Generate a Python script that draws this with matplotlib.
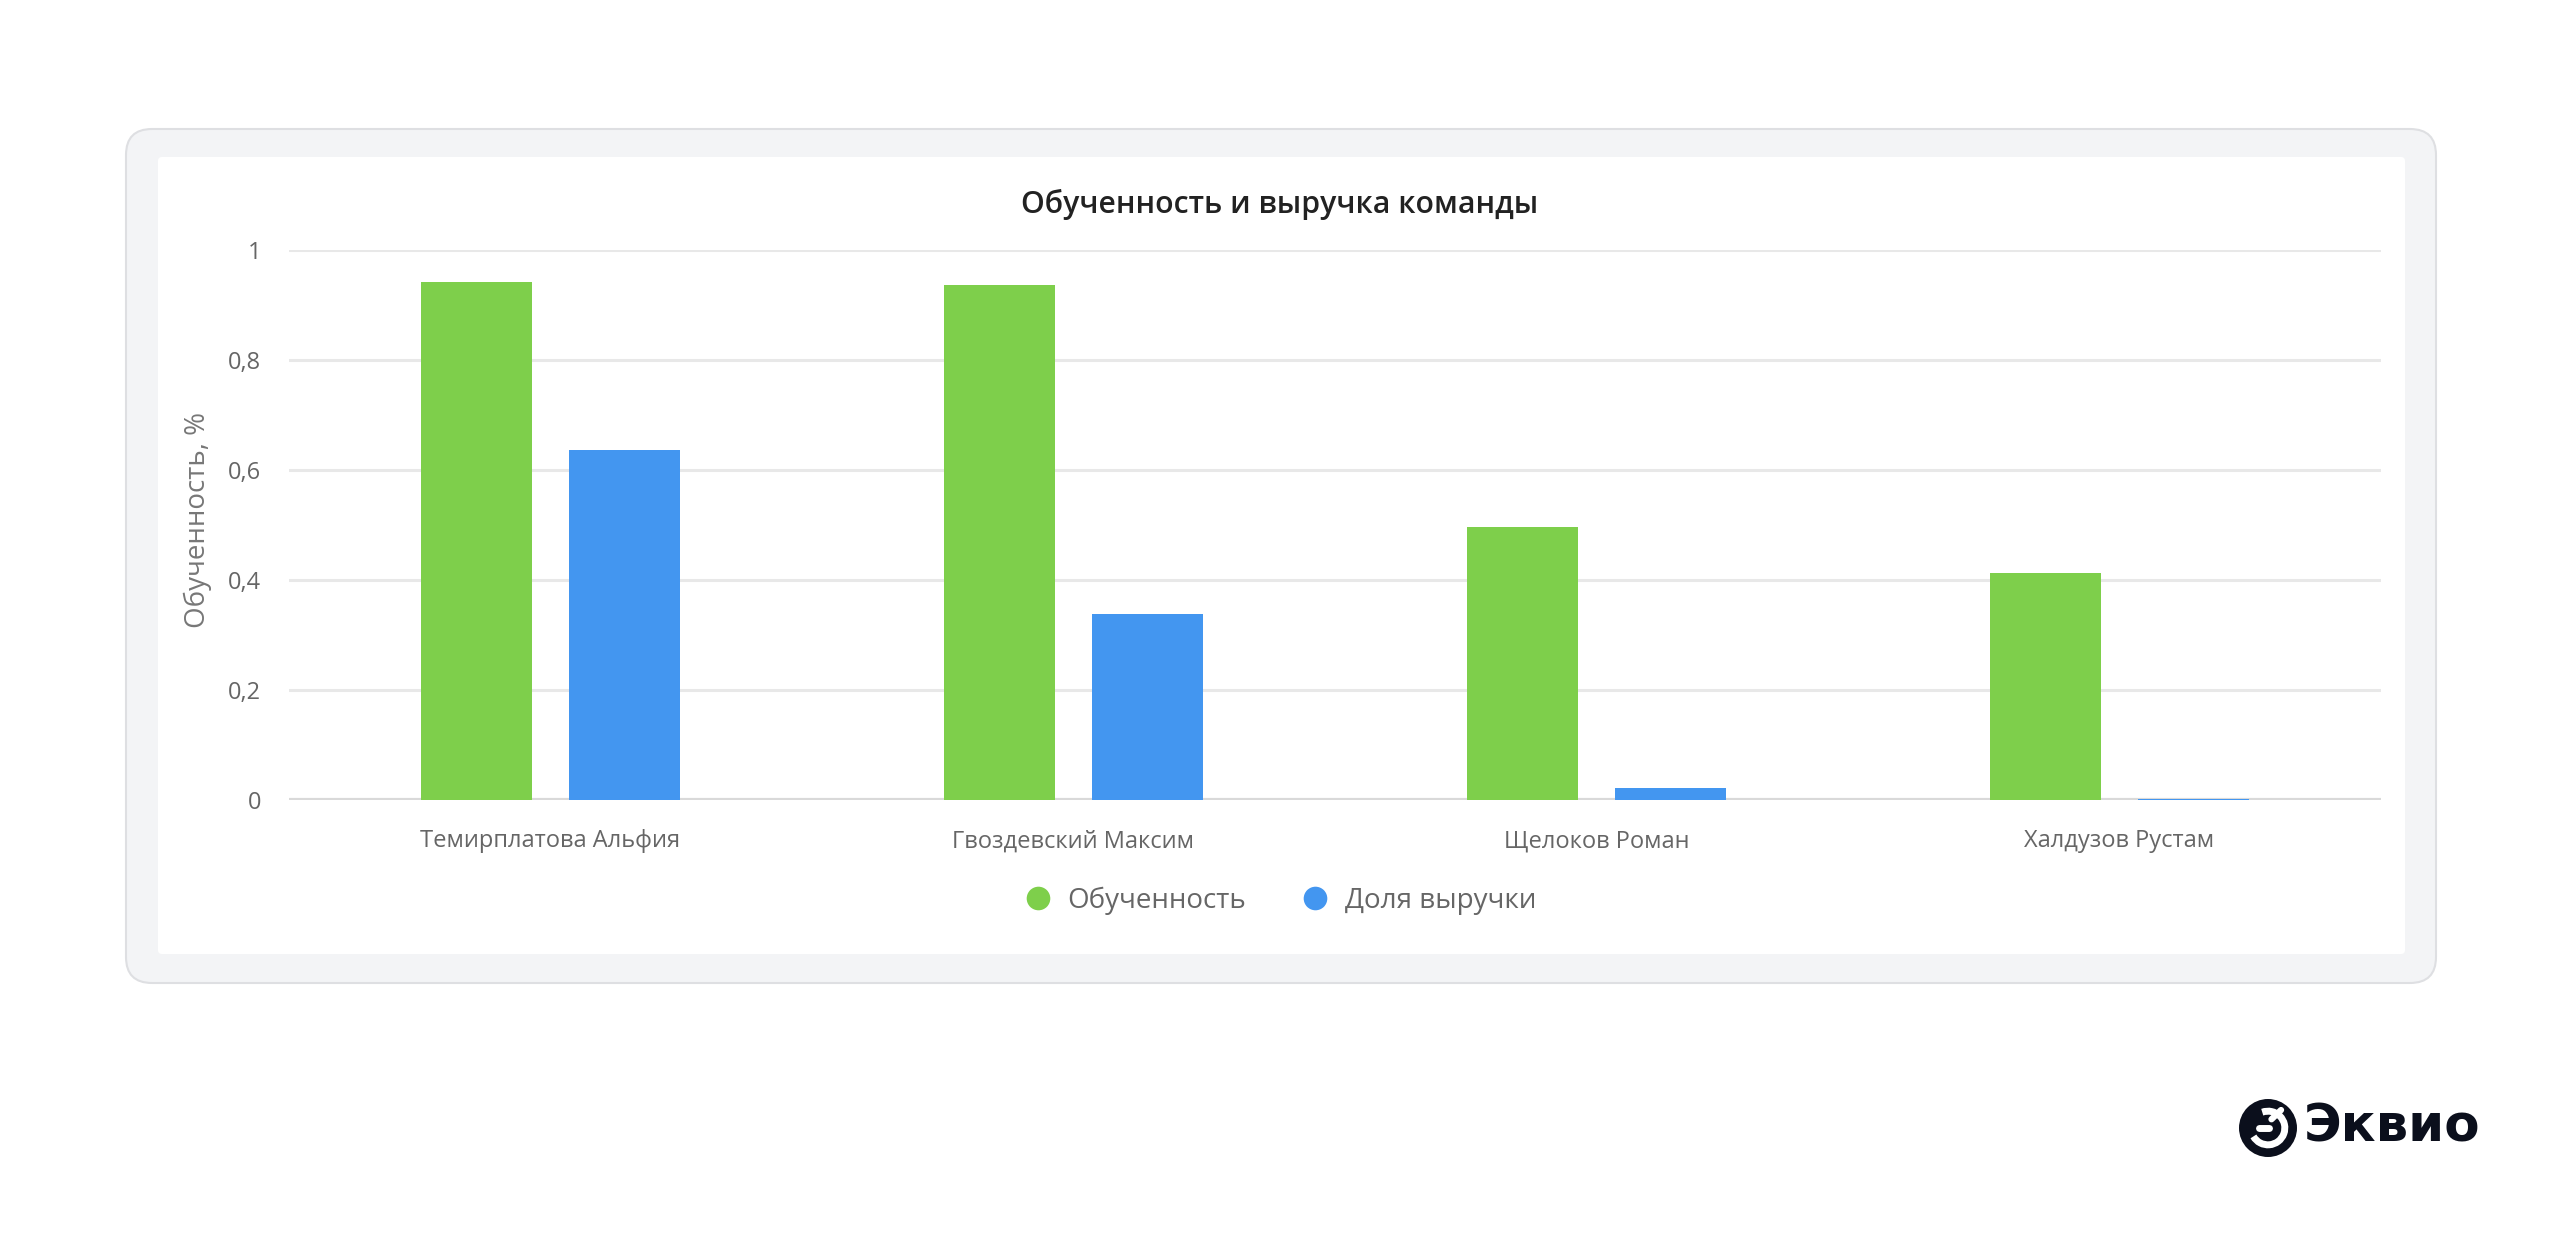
import matplotlib
matplotlib.use("Agg")
import matplotlib.pyplot as plt
import numpy as np
from matplotlib.patches import FancyBboxPatch, Circle, Arc
from matplotlib.lines import Line2D
from matplotlib.transforms import IdentityTransform

# ---- data ----
categories = ["Темирплатова Альфия", "Гвоздевский Максим", "Щелоков Роман", "Халдузов Рустам"]
obuchennost = [0.941, 0.935, 0.496, 0.413]
dolya_vyruchki = [0.635, 0.338, 0.021, 0.002]
y_ticks = [0, 0.2, 0.4, 0.6, 0.8, 1]
y_tick_labels = ["0", "0,2", "0,4", "0,6", "0,8", "1"]
series_names = ["Обученность", "Доля выручки"]
title = "Обученность и выручка команды"
y_label = "Обученность, %"
brand = "Эквио"

GREEN = "#7ECF4B"
BLUE = "#4396F0"
FONT = ["Open Sans", "DejaVu Sans"]
plt.rcParams["font.family"] = FONT

W, H = 2560, 1238
fig = plt.figure(figsize=(W / 100, H / 100), dpi=100)
fig.patch.set_facecolor("white")

def px_box(x0, ytop, x1, ybot, pad, **kw):
    return FancyBboxPatch((x0, H - ybot), x1 - x0, ybot - ytop,
                          boxstyle=f"round,pad=0,rounding_size={pad}",
                          transform=IdentityTransform(), **kw)

# outer card
fig.patches.append(px_box(126, 129, 2436, 983, 26, facecolor="#F3F4F6",
                          edgecolor="#DEDFE2", linewidth=1.5, zorder=0))
# inner white panel
fig.patches.append(px_box(158, 157, 2405, 954, 4, facecolor="white",
                          edgecolor="none", zorder=1))

# axes
ax_left, ax_right = 289 / W, 2381 / W
ax_bottom, ax_top = 1 - 800 / H, 1 - 249.6 / H
ax = fig.add_axes([ax_left, ax_bottom, ax_right - ax_left, ax_top - ax_bottom])
ax.set_facecolor("none")
ax.set_zorder(2)

x = np.arange(len(categories))
bw = 0.213
off = 0.141
ax.bar(x - off, obuchennost, width=bw, color=GREEN, zorder=3)
ax.bar(x + off, dolya_vyruchki, width=bw, color=BLUE, zorder=3)

ax.set_xlim(-0.5, len(categories) - 0.5)
ax.set_ylim(0, 1)
ax.set_yticks(y_ticks)
ax.set_yticklabels(y_tick_labels)
ax.set_xticks(x)
ax.set_xticklabels(categories)
for s in ax.spines.values():
    s.set_visible(False)
ax.yaxis.grid(True, color="#E8E8E8", linewidth=2.2, zorder=0)
ax.set_axisbelow(True)
ax.axhline(0, color="#D9D9D9", linewidth=3, zorder=2.5)
ax.tick_params(axis="both", length=0, colors="#666666", labelsize=17)
ax.tick_params(axis="y", pad=20)
ax.tick_params(axis="x", pad=21)

fig.text(197.6 / W, 1 - 520 / H, y_label, rotation=90, ha="center", va="center",
         fontsize=20, color="#777777", zorder=5)

fig.text(0.5, 1 - 204 / H, title, ha="center", va="center", fontsize=21.8,
         fontweight="semibold", color="#222222", zorder=5)

handles = [Line2D([], [], marker="o", linestyle="none", markersize=17,
                  markerfacecolor=GREEN, markeredgecolor="none"),
           Line2D([], [], marker="o", linestyle="none", markersize=17,
                  markerfacecolor=BLUE, markeredgecolor="none")]
leg = fig.legend(handles, series_names, loc="center", bbox_to_anchor=(0.5, 1 - 901 / H),
                 ncol=2, frameon=False, fontsize=20, handletextpad=0.55,
                 columnspacing=2.0, handlelength=1.0)
for t in leg.get_texts():
    t.set_color("#666666")

# brand logo
cx, cy, r = 2268, H - 1128, 29
fig.patches.append(Circle((cx, cy), r, transform=IdentityTransform(),
                          facecolor="#0B0F1C", edgecolor="none", zorder=5))
fig.patches.append(Arc((cx, cy), 2 * r * 0.58, 2 * r * 0.58, theta1=-150, theta2=110,
                       transform=IdentityTransform(), color="white", linewidth=5, zorder=6))
fig.lines.append(Line2D([cx - r * 0.30, cx + r * 0.05], [cy, cy], transform=IdentityTransform(),
                        color="white", linewidth=5, solid_capstyle="round", zorder=6))
fig.lines.append(Line2D([cx + r * 0.12, cx + r * 0.45], [cy + r * 0.30, cy + r * 0.62],
                        transform=IdentityTransform(), color="white", linewidth=4.5,
                        solid_capstyle="round", zorder=6))
fig.text(2304 / W, 1 - 1128 / H, brand, ha="left", va="center", fontsize=37,
         fontweight="bold", family=["DejaVu Sans"], color="#0B0F1C", zorder=6)

fig.savefig("out.png", dpi=100, facecolor="white")
